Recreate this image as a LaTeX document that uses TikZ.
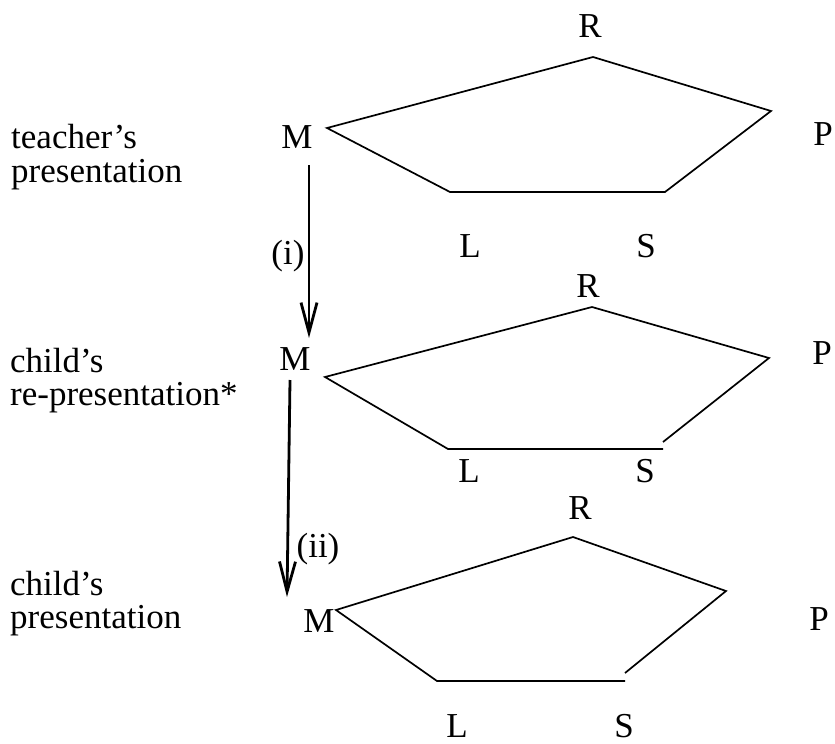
\documentclass[tikz,border=0pt]{standalone}
\usepackage{fontspec}
\setmainfont{Liberation Serif}
\usetikzlibrary{arrows.meta}
\begin{document}
\begin{tikzpicture}[x=1pt,y=-1pt,
  lbl/.style={inner sep=0pt, anchor=base, font=\fontsize{35}{40}\selectfont},
  side/.style={inner sep=0pt, anchor=base west, font=\fontsize{35}{40}\selectfont},
  pent/.style={line width=1.7pt, line join=miter},
  flow/.style={line width=2.8pt, -{Straight Barb[length=30pt,width=16pt,line width=2.8pt]}}]
\useasboundingbox (0,0) rectangle (835,744);

% left texts
\node[side] (t1a) at (11,148) {teacher’s};
\node[side] (t1b) at (11,182) {presentation};
\node[side] (t2a) at (10,372) {child’s};
\node[side] (t2b) at (10,405) {re-presentation*};
\node[side] (t3a) at (10,595) {child’s};
\node[side] (t3b) at (10,628) {presentation};

% pentagon 1
\coordinate (m1) at (327,128);
\coordinate (r1) at (593,57);
\coordinate (p1) at (771,111);
\coordinate (s1) at (665,192);
\coordinate (l1) at (450,192);
\draw[pent] (m1) -- (r1) -- (p1) -- (s1) -- (l1) -- cycle;
\node[lbl] (M1) at (297,148) {M};
\node[lbl] (R1) at (590,37) {R};
\node[lbl] (P1) at (823,145) {P};
\node[lbl] (L1) at (470,257) {L};
\node[lbl] (S1) at (646,257) {S};

% pentagon 2
\coordinate (m2) at (325,377);
\coordinate (r2) at (592,307);
\coordinate (p2) at (769,358);
\coordinate (s2) at (663,442);
\coordinate (s2b) at (663,449);
\coordinate (l2) at (448,449);
\draw[pent] (s2) -- (p2) -- (r2) -- (m2) -- (l2) -- (s2b);
\node[lbl] (M2) at (295,370) {M};
\node[lbl] (R2) at (588,297) {R};
\node[lbl] (P2) at (822,364) {P};
\node[lbl] (L2) at (469,482) {L};
\node[lbl] (S2) at (645,482) {S};

% pentagon 3
\coordinate (m3) at (336,610);
\coordinate (r3) at (573,537);
\coordinate (p3) at (726,591);
\coordinate (s3) at (625,673);
\coordinate (s3b) at (625,681);
\coordinate (l3) at (437,681);
\draw[pent] (s3) -- (p3) -- (r3) -- (m3) -- (l3) -- (s3b);
\node[lbl] (M3) at (319,632) {M};
\node[lbl] (R3) at (580,519) {R};
\node[lbl] (P3) at (819,630) {P};
\node[lbl] (L3) at (457,737) {L};
\node[lbl] (S3) at (624,737) {S};

% arrows
\coordinate (a1s) at (309,165);
\coordinate (a1e) at (309,338);
\draw[flow] (a1s) -- (a1e);
\node[lbl] (i) at (288,264) {(i)};

\coordinate (a2s) at (290,380);
\coordinate (a2e) at (287,597);
\draw[flow] (a2s) -- (a2e);
\node[lbl] (ii) at (318,557) {(ii)};
\end{tikzpicture}
\end{document}
